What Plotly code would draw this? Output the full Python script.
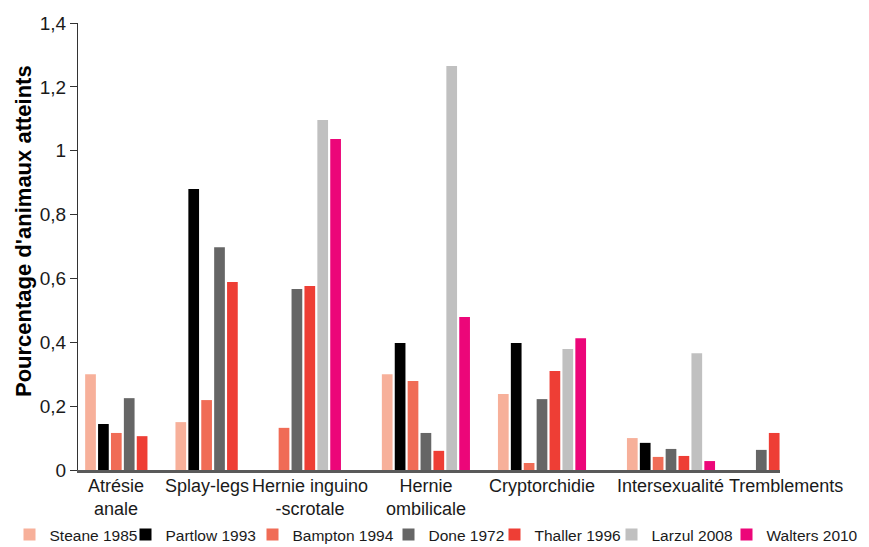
import plotly.graph_objects as go

# ---------------- data ----------------
categories = ["Atrésie anale", "Splay-legs", "Hernie inguino -scrotale",
              "Hernie ombilicale", "Cryptorchidie", "Intersexualité", "Tremblements"]
category_labels = ["Atrésie<br>anale", "Splay-legs", "Hernie inguino<br>-scrotale",
                   "Hernie<br>ombilicale", "Cryptorchidie", "Intersexualité", "Tremblements"]

series_names = ["Steane 1985", "Partlow 1993", "Bampton 1994", "Done 1972",
                "Thaller 1996", "Larzul 2008", "Walters 2010"]

steane_1985 = [0.30, 0.15, None, 0.30, 0.238, 0.10, None]
partlow_1993 = [0.144, 0.88, None, 0.398, 0.398, 0.085, None]
bampton_1994 = [0.116, 0.219, 0.132, 0.279, 0.022, 0.041, None]
done_1972 = [0.225, 0.698, 0.567, 0.116, 0.222, 0.066, 0.063]
thaller_1996 = [0.106, 0.589, 0.576, 0.060, 0.310, 0.044, 0.116]
larzul_2008 = [None, None, 1.096, 1.265, 0.379, 0.366, None]
walters_2010 = [None, None, 1.037, 0.479, 0.413, 0.028, None]

series_values = [steane_1985, partlow_1993, bampton_1994, done_1972,
                 thaller_1996, larzul_2008, walters_2010]

y_tick_values = [0, 0.2, 0.4, 0.6, 0.8, 1.0, 1.2, 1.4]

# ---------------- styles / layout constants ----------------
colors = ["#F7B09A", "#000000", "#F06C56", "#666666", "#EE3E35", "#C0C0C0", "#EC0679"]
GAP_SLOTS = [2, 3, 3, 2, 3, 3]          # empty slots between groups
LABEL_SHIFT = [0, 0, 0, 0, 0, 0, 1.4]   # label offset (slots)
LEGEND_SWATCH_PX = [29.5, 145.5, 272.5, 408.5, 514.5, 631.5, 746.5]  # legend entry centres
LEGEND_Y_PX = 535
FONT = "Liberation Sans, Arial, sans-serif"
W, H = 869, 547
PLOT_L, PLOT_W, PLOT_T, PLOT_H = 78, 702, 23, 447

# build one category slot per existing bar
slots = []
bar_slot = {}
group_centers = []
for ci, cat in enumerate(categories):
    first = len(slots)
    for si, vals in enumerate(series_values):
        if vals[ci] is not None:
            name = f"{cat} – {series_names[si]}"
            bar_slot[(si, ci)] = name
            slots.append(name)
    group_centers.append((first + len(slots) - 1) / 2)
    if ci < len(GAP_SLOTS):
        for k in range(GAP_SLOTS[ci]):
            slots.append(f"gap {ci}.{k}")

x_range = [-0.97, len(slots) - 1 + 0.45]

fig = go.Figure()
legend_layouts = {}
for si, (name, vals) in enumerate(zip(series_names, series_values)):
    xs, ys = [], []
    for ci, v in enumerate(vals):
        if v is not None:
            xs.append(bar_slot[(si, ci)])
            ys.append(v)
    legend_id = "legend" if si == 0 else f"legend{si + 1}"
    fig.add_trace(go.Bar(name=name, x=xs, y=ys, legend=legend_id,
                         marker=dict(color=colors[si], line=dict(width=0))))
    legend_layouts[legend_id] = dict(
        orientation="h", xref="container", yref="container",
        x=(LEGEND_SWATCH_PX[si] - 20) / W, xanchor="left",
        y=(H - LEGEND_Y_PX) / H, yanchor="middle",
        font=dict(family=FONT, size=15.5, color="#1a1a1a"),
        itemwidth=30, bgcolor="rgba(0,0,0,0)", borderwidth=0)

annotations = []
span = x_range[1] - x_range[0]
for ci, lab in enumerate(category_labels):
    xc = group_centers[ci] + LABEL_SHIFT[ci]
    annotations.append(dict(
        text=lab, xref="paper", yref="paper",
        x=(xc - x_range[0]) / span, y=0, xanchor="center", yanchor="top",
        yshift=-4, showarrow=False, align="center",
        font=dict(family=FONT, size=18, color="#1a1a1a")))

annotations.append(dict(
    text="<b>Pourcentage d'animaux atteints</b>", textangle=-90,
    xref="paper", yref="paper", x=(23 - PLOT_L) / PLOT_W, y=(470 - 231) / PLOT_H,
    xanchor="center", yanchor="middle", showarrow=False,
    font=dict(family=FONT, size=22, color="#000000")))

fig.update_layout(
    width=W, height=H, autosize=False,
    margin=dict(l=PLOT_L, r=W - PLOT_L - PLOT_W, t=PLOT_T, b=H - PLOT_T - PLOT_H, pad=0),
    paper_bgcolor="white", plot_bgcolor="white",
    barmode="relative", bargap=0.17,
    separators=", ",
    font=dict(family=FONT, size=16, color="#1a1a1a"),
    showlegend=True,
    xaxis=dict(type="category", categoryorder="array", categoryarray=slots,
               range=x_range, showticklabels=False, ticks="", showgrid=False,
               zeroline=False, showline=True, linecolor="#5a5a5a", linewidth=2.5,
               fixedrange=True),
    yaxis=dict(range=[0, 1.4], tickmode="array", tickvals=y_tick_values,
               ticks="outside", ticklen=7, tickwidth=1.3, tickcolor="#333333",
               showline=True, linecolor="#333333", linewidth=1.3,
               showgrid=False, zeroline=False,
               tickfont=dict(family=FONT, size=19, color="#1a1a1a")),
    annotations=annotations,
    **legend_layouts,
)

fig.write_html("out.html", config={"displayModeBar": False},
               post_script="document.body.style.margin='0';")
